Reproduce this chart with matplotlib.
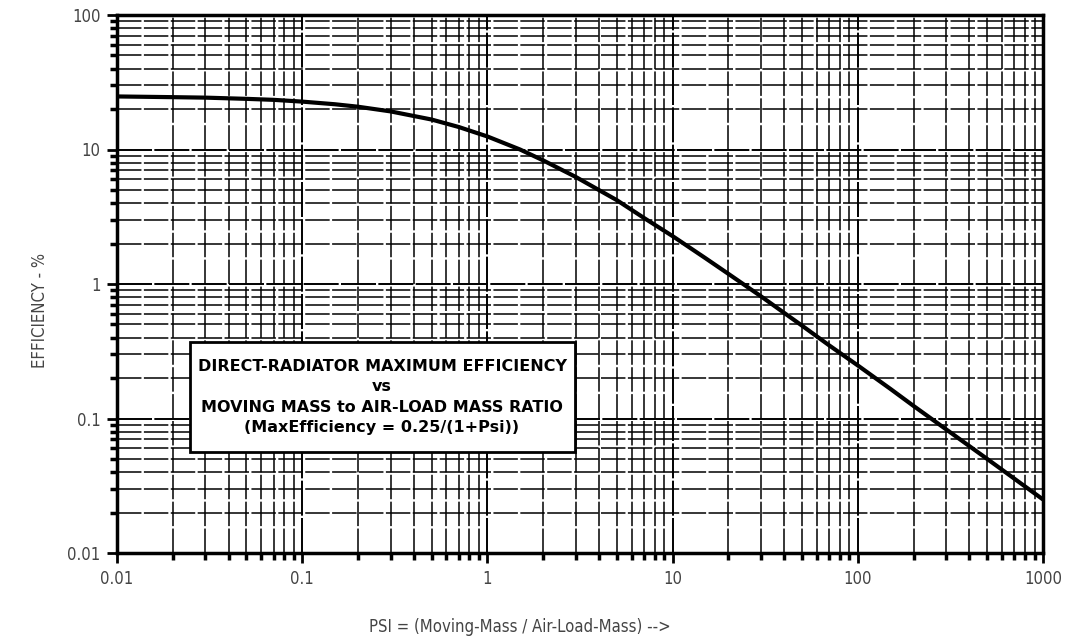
import numpy as np
import matplotlib
matplotlib.use("Agg")
import matplotlib.pyplot as plt
from matplotlib.patches import Rectangle
from matplotlib.ticker import LogLocator, FixedLocator, FixedFormatter, NullFormatter

# values
psi = [0.01, 0.02, 0.03, 0.05, 0.07, 0.1, 0.15, 0.2, 0.3, 0.5, 0.7, 1, 1.5, 2, 3, 5, 7,
       10, 15, 20, 30, 50, 70, 100, 150, 200, 300, 500, 700, 1000]
efficiency = [24.8, 24.5, 24.3, 23.8, 23.4, 22.7, 21.7, 20.8, 19.2, 16.7, 14.7, 12.5,
              10.0, 8.3, 6.25, 4.2, 3.1, 2.27, 1.56, 1.19, 0.81, 0.49, 0.35, 0.248,
              0.166, 0.124, 0.083, 0.05, 0.0357, 0.025]

x_ticks = [0.01, 0.1, 1, 10, 100, 1000]
x_labels = ["0.01", "0.1", "1", "10", "100", "1000"]
y_ticks = [0.01, 0.1, 1, 10, 100]
y_labels = ["0.01", "0.1", "1", "10", "100"]

box_lines = [
    "DIRECT-RADIATOR MAXIMUM EFFICIENCY",
    "vs",
    "MOVING MASS to AIR-LOAD MASS RATIO",
    "(MaxEfficiency = 0.25/(1+Psi))",
]

W, H = 1072, 640
fig = plt.figure(figsize=(W / 100, H / 100), dpi=100)
ax = fig.add_axes([117 / W, 1 - 553 / H, (1043 - 117) / W, (553 - 15) / H])
ax.set_xscale("log")
ax.set_yscale("log")
ax.set_xlim(0.01, 1000)
ax.set_ylim(0.01, 100)

# graph-paper style grid
ax.xaxis.set_major_locator(FixedLocator(x_ticks))
ax.xaxis.set_major_formatter(FixedFormatter(x_labels))
ax.yaxis.set_major_locator(FixedLocator(y_ticks))
ax.yaxis.set_major_formatter(FixedFormatter(y_labels))
ax.xaxis.set_minor_locator(LogLocator(base=10, subs=np.arange(2, 10)))
ax.yaxis.set_minor_locator(LogLocator(base=10, subs=np.arange(2, 10)))
ax.xaxis.set_minor_formatter(NullFormatter())
ax.yaxis.set_minor_formatter(NullFormatter())
ax.grid(True, which="major", color="black", lw=1.4, ls=(0, (18, 1.2)))
ax.grid(True, which="minor", color="black", lw=1.1, ls=(0, (16, 1.6)))
ax.set_axisbelow(True)

for s in ax.spines.values():
    s.set_linewidth(2.5)
ax.tick_params(which="major", direction="out", length=7, width=2, colors="black",
               labelcolor="#444444", labelsize=12, pad=5)
ax.tick_params(which="minor", direction="out", length=5, width=2.5, colors="black")
for lab in ax.get_xticklabels() + ax.get_yticklabels():
    lab.set_fontstretch("condensed")

ax.plot(psi, efficiency, color="black", lw=3, solid_capstyle="butt", zorder=3)

# title box (white, covers the grid)
fig.add_artist(Rectangle((190 / W, 1 - 452 / H), (575 - 190) / W, (452 - 342) / H,
                         transform=fig.transFigure, fc="white", ec="black", lw=2,
                         zorder=5))
fig.text(382 / W, 1 - 397 / H, "\n".join(box_lines), ha="center", va="center",
         fontsize=11.5, fontweight="bold", linespacing=1.45, zorder=6)

fig.text(520 / W, 1 - 627 / H, "PSI = (Moving-Mass / Air-Load-Mass) -->",
         ha="center", va="center", fontsize=12, color="#444444", fontstretch="condensed")
fig.text(40 / W, 1 - 310 / H, "EFFICIENCY - %", rotation=90,
         ha="center", va="center", fontsize=12, color="#444444", fontstretch="condensed")

fig.savefig("out.png", dpi=100)
